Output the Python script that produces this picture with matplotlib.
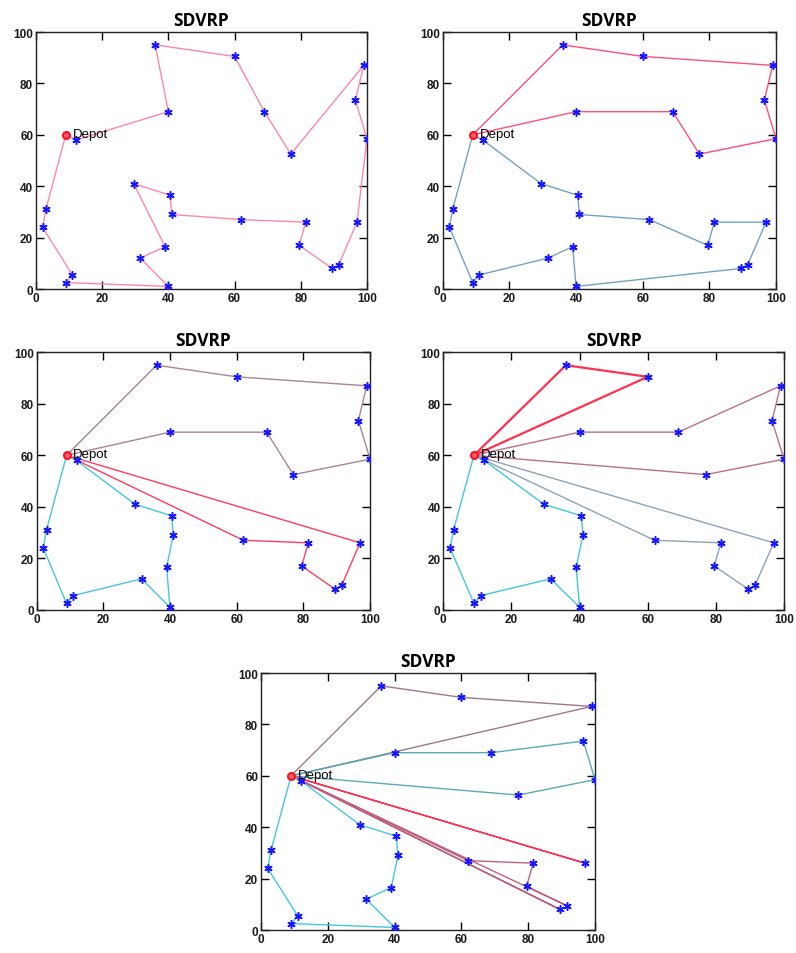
import matplotlib
matplotlib.use("Agg")
import matplotlib.pyplot as plt

# Customer coordinates (index 0 is the depot)
node_x = [9, 12, 40, 36, 60, 69, 77, 99, 96.5, 100, 97, 91.5, 89.5, 79.5,
          81.5, 62, 41, 40.5, 29.5, 39, 31.5, 40, 9, 11, 2, 3]
node_y = [60, 58, 69, 95, 90.5, 69, 52.5, 87, 73.5, 58.5, 26, 9.5, 8, 17,
          26, 27, 29, 36.5, 41, 16.5, 12, 1, 2.5, 5.5, 24, 31]

# Routes for each solution (lists of node indices)
routes_1 = [[0, 1, 2, 3, 4, 5, 6, 7, 8, 9, 10, 11, 12, 13, 14, 15, 16, 17, 18,
             19, 20, 21, 22, 23, 24, 25, 0]]
routes_2 = [[0, 3, 4, 7, 8, 9, 6, 5, 2, 0],
            [0, 1, 18, 17, 16, 15, 13, 14, 10, 11, 12, 21, 19, 20, 23, 22, 24, 25, 0]]
routes_3 = [[0, 3, 4, 7, 8, 9, 6, 5, 2, 0],
            [0, 15, 14, 13, 12, 11, 10, 0],
            [0, 1, 18, 17, 16, 19, 21, 20, 23, 22, 24, 25, 0]]
routes_4 = [[0, 3, 4, 0],
            [0, 2, 5, 7, 8, 9, 6, 0],
            [0, 15, 14, 13, 12, 11, 10, 0],
            [0, 1, 18, 17, 16, 19, 21, 20, 23, 22, 24, 25, 0]]
routes_5 = [[0, 3, 4, 7, 0],
            [0, 2, 5, 8, 9, 6, 0],
            [0, 10, 0],
            [0, 15, 14, 13, 11, 0],
            [0, 12, 0],
            [0, 1, 18, 17, 16, 19, 20, 21, 22, 23, 24, 25, 0]]

colors_1 = ["#ff86aa"]
colors_2 = ["#ff4f78", "#72a2bc"]
colors_3 = ["#a88498", "#ff3c60", "#48c6d6"]
colors_4 = ["#ff3050", "#b8708c", "#8ea2b6", "#40c8d8"]
colors_5 = ["#9c7890", "#5aaab6", "#ff3456", "#c0607c", "#c0607c", "#44c8d8"]

widths_4 = [1.6, 1.0, 1.0, 1.0]

panels = [
    ([0.0452, 0.6960, 0.4158, 0.2694], routes_1, colors_1, None),
    ([0.5562, 0.6960, 0.4187, 0.2694], routes_2, colors_2, None),
    ([0.0459, 0.3598, 0.4190, 0.2698], routes_3, colors_3, None),
    ([0.5569, 0.3598, 0.4280, 0.2698], routes_4, colors_4, widths_4),
    ([0.3279, 0.0241, 0.4196, 0.2694], routes_5, colors_5, None),
]

fig = plt.figure(figsize=(7.96, 9.54), dpi=100)

for rect, routes, colors, widths in panels:
    ax = fig.add_axes(rect)
    for i, route in enumerate(routes):
        lw = widths[i] if widths else 1.0
        ax.plot([node_x[k] for k in route], [node_y[k] for k in route],
                color=colors[i], lw=lw, zorder=2)
    # asterisk markers for customers
    ax.plot(node_x[1:], node_y[1:], ls="none", marker=(6, 2, 0), ms=6,
            color="#1515ff", mew=1.1, zorder=3)
    ax.plot(node_x[0], node_y[0], ls="none", marker="o", ms=5,
            mfc="#ff6070", mec="#ff1020", mew=1.5, zorder=4)
    ax.text(node_x[0] + 2, node_y[0] + 0.5, "Depot", fontsize=9.5,
            family="Liberation Sans", va="center", ha="left", zorder=5)
    ax.set_xlim(0, 100)
    ax.set_ylim(0, 100)
    ax.set_xticks(range(0, 101, 20))
    ax.set_yticks(range(0, 101, 20))
    ax.tick_params(direction="in", top=True, right=True, length=6,
                   width=1.0, labelsize=8.5, pad=2)
    for lab in ax.get_xticklabels() + ax.get_yticklabels():
        lab.set_fontweight("bold")
        lab.set_family("Liberation Sans")
        lab.set_color("#1a1a1a")
    for sp in ax.spines.values():
        sp.set_linewidth(1.0)
        sp.set_color("#222222")
    ax.set_title("SDVRP", fontsize=12.5, fontweight="bold",
                 family="Open Sans", pad=5)

fig.savefig("out.png", dpi=100)
